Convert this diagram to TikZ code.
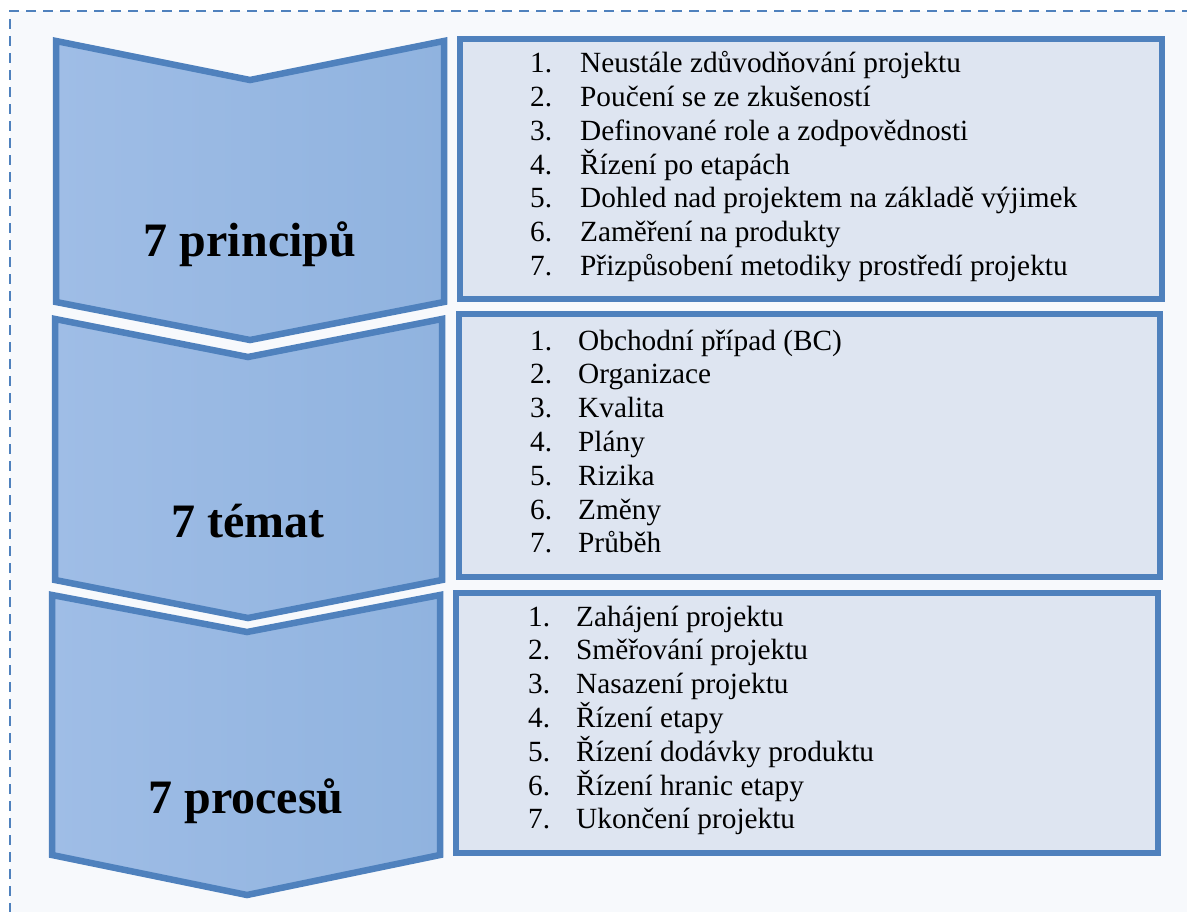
\documentclass[tikz,border=0pt]{standalone}
\usepackage{fontspec}
\setmainfont{Liberation Serif}
\definecolor{edge}{HTML}{4F81BD}
\definecolor{chevL}{HTML}{9FBDE6}
\definecolor{chevR}{HTML}{90B3DF}
\definecolor{boxfill}{HTML}{DEE5F1}
\definecolor{bgfill}{HTML}{F7F9FC}
\newcommand{\itemsize}{\rmfamily\fontsize{29.3}{34}\selectfont}
\newcommand{\headsize}{\rmfamily\fontsize{48}{56}\selectfont\bfseries}
\begin{document}
\begin{tikzpicture}[x=1pt,y=-1pt,
  chev/.style={draw=edge,line width=6.5pt,line join=miter,left color=chevL,right color=chevR},
  listbox/.style={draw=edge,line width=6.5pt,fill=boxfill},
  numtext/.style={anchor=base west,inner sep=0pt,font=\itemsize},
  itemtext/.style={anchor=base west,inner sep=0pt,font=\itemsize},
  headtext/.style={anchor=base,inner sep=0pt,font=\headsize},
  frame/.style={draw=edge,line width=2pt,dash pattern=on 10pt off 7pt}]
\useasboundingbox (0,0) rectangle (1187,912);
\clip (0,0) rectangle (1187,912);
% page background and dashed frame
\fill[white] (0,0) rectangle (1187,912);
\fill[bgfill] (10,11) rectangle (1200,930);
\draw[frame] (10,930) -- (10,11) -- (1200,11);

% chevrons
\path[chev] (56,41) -- (250,80) -- (444,41) -- (444,302) -- (250,340) -- (56,302) -- cycle;
\path[chev] (55,319) -- (248,357) -- (442,319) -- (442,580) -- (248,618) -- (55,580) -- cycle;
\path[chev] (52,595) -- (247,632) -- (440,595) -- (440,855) -- (247,895) -- (52,855) -- cycle;

\node[headtext] (h1) at (250,257) {7 principů};
\node[headtext] (h2) at (248,537) {7 témat};
\node[headtext] (h3) at (246,813) {7 procesů};

% list boxes
\draw[listbox] (460,39) rectangle (1162,299);
\draw[listbox] (459,314) rectangle (1160,577);
\draw[listbox] (456,593) rectangle (1158,853);

\foreach \t [count=\i] in {Neustále zdůvodňování projektu,Poučení se ze zkušeností,Definované role a zodpovědnosti,Řízení po etapách,Dohled nad projektem na základě výjimek,Zaměření na produkty,Přizpůsobení metodiky prostředí projektu}{
  \node[numtext] (an\i) at (530,{73+33.7*(\i-1)}) {\i.};
  \node[itemtext] (at\i) at (580,{73+33.7*(\i-1)}) {\t};
}
\foreach \t [count=\i] in {Obchodní případ (BC),Organizace,Kvalita,Plány,Rizika,Změny,Průběh}{
  \node[numtext] (bn\i) at (530,{350+33.8*(\i-1)}) {\i.};
  \node[itemtext] (bt\i) at (578,{350+33.8*(\i-1)}) {\t};
}
\foreach \t [count=\i] in {Zahájení projektu,Směřování projektu,Nasazení projektu,Řízení etapy,Řízení dodávky produktu,Řízení hranic etapy,Ukončení projektu}{
  \node[numtext] (cn\i) at (528,{626+33.8*(\i-1)}) {\i.};
  \node[itemtext] (ct\i) at (576,{626+33.8*(\i-1)}) {\t};
}
\end{tikzpicture}
\end{document}
